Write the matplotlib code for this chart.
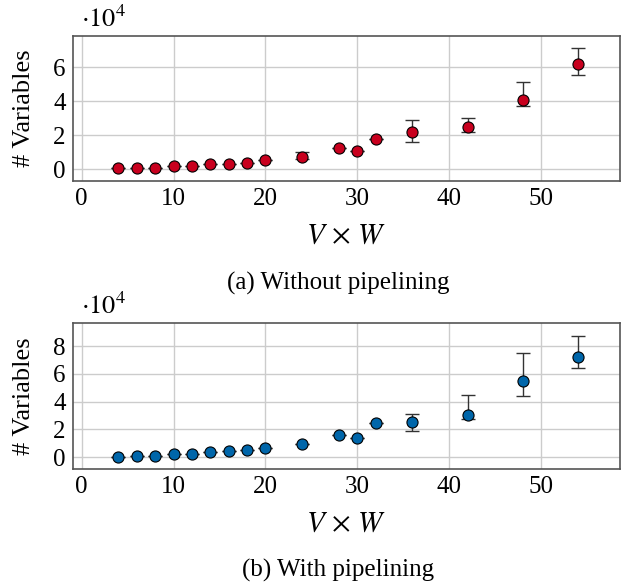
#!/usr/bin/env python3

import matplotlib
matplotlib.use("Agg")
import matplotlib.pyplot as plt

# values in units of 1e4 variables
vw = [4, 6, 8, 10, 12, 14, 16, 18, 20, 24, 28, 30, 32, 36, 42, 48, 54]

no_pipe = [0.06, 0.08, 0.10, 0.19, 0.19, 0.29, 0.31, 0.37, 0.53, 0.74, 1.27, 1.06, 1.80,
           2.19, 2.51, 4.06, 6.21]
no_pipe_lo = [0, 0, 0, 0, 0, 0, 0, 0, 0, 0.12, 0, 0, 0, 0.60, 0.33, 0.34, 0.64]
no_pipe_hi = [0, 0, 0, 0, 0, 0, 0, 0, 0, 0.26, 0, 0, 0, 0.71, 0.49, 1.06, 0.93]

pipe = [0.03, 0.07, 0.10, 0.22, 0.22, 0.36, 0.41, 0.48, 0.67, 0.96, 1.61, 1.35, 2.48,
        2.55, 3.05, 5.46, 7.21]
pipe_lo = [0, 0, 0, 0, 0, 0, 0, 0, 0, 0, 0, 0, 0, 0.65, 0.31, 1.06, 0.82]
pipe_hi = [0, 0, 0, 0, 0, 0, 0, 0, 0, 0, 0, 0, 0, 0.53, 1.42, 2.02, 1.54]

plt.rcParams["font.family"] = ["Liberation Serif", "DejaVu Serif"]
plt.rcParams["mathtext.fontset"] = "stix"

W, H = 621, 585


def panel(fig, top_px, bot_px, ys, lo, hi, color, yticks, ylim, caption):
    left, right = 72.5, 620
    ax = fig.add_axes([left / W, 1 - bot_px / H, (right - left) / W, (bot_px - top_px) / H])
    ax.errorbar(vw, ys, yerr=[lo, hi], fmt="none", ecolor="#333333", elinewidth=1.0,
                capsize=5, capthick=1.0, zorder=2)
    ax.plot(vw, ys, "o", color=color, markeredgecolor="black", markeredgewidth=0.8,
            markersize=8, zorder=3)
    ax.set_xlim(-1.0, 58.6)
    ax.set_ylim(*ylim)
    ax.set_xticks([0, 10, 20, 30, 40, 50])
    ax.set_yticks(yticks)
    ax.grid(color="#cccccc", linewidth=1.0)
    ax.set_axisbelow(True)
    for s in ax.spines.values():
        s.set_color("#555555")
        s.set_linewidth(1.2)
    ax.tick_params(direction="in", length=0, pad=5, labelsize=18)
    fig.text(346 / W, 1 - (bot_px + 55) / H, r"$V \,\times\, W$", ha="center", va="center",
             fontsize=21)
    fig.text(24 / W, 1 - (top_px + bot_px) / 2 / H, "# Variables", rotation=90,
             ha="center", va="center", fontsize=19)
    fig.text(81 / W, 1 - (top_px - 4) / H, r"$\cdot10^4$", fontsize=19,
             ha="left", va="bottom")
    fig.text(338 / W, 1 - (bot_px + 102) / H, caption, ha="center", va="center", fontsize=18)
    return ax


fig = plt.figure(figsize=(W / 100, H / 100), dpi=100)
panel(fig, 36, 181, no_pipe, no_pipe_lo, no_pipe_hi, "#C8001E", [0, 2, 4, 6],
      (-0.69, 7.84), "(a) Without pipelining")
panel(fig, 323.3, 468.7, pipe, pipe_lo, pipe_hi, "#0066AA", [0, 2, 4, 6, 8],
      (-0.84, 9.64), "(b) With pipelining")
fig.savefig("out.png", dpi=100)
